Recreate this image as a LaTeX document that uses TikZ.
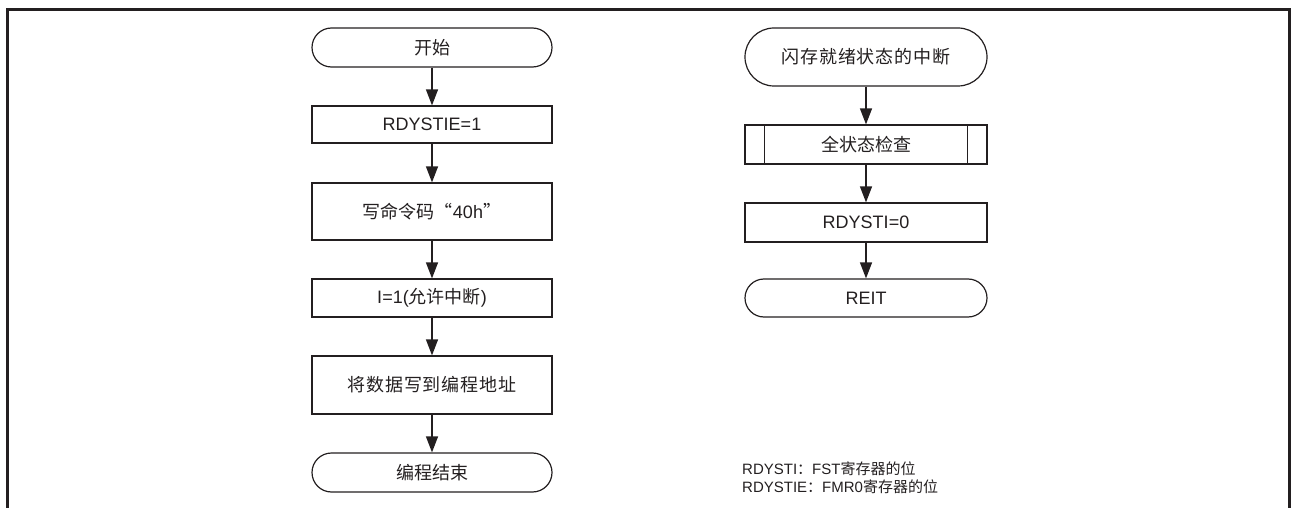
\documentclass[tikz,border=0pt]{standalone}
\usepackage{fontspec}
\setmainfont{Liberation Sans}
\newfontfamily\cjk{Noto Sans CJK SC}
\newfontfamily\cjkwide{Noto Sans CJK SC}[LetterSpace=5]
\usetikzlibrary{arrows.meta}
\definecolor{ink}{HTML}{231F20}

\begin{document}
\begin{tikzpicture}[
  x=1pt, y=-1pt,
  >={Triangle[length=16pt,width=12pt]},
  every node/.style={font=\fontsize{18}{21}\selectfont, text=ink},
  terminal/.style={draw=ink, line width=1.2pt, minimum width=240pt, minimum height=39pt, inner sep=0pt, rounded corners=19.5pt},
  procbox/.style={draw=ink, line width=1.2pt, minimum width=240pt, inner sep=0pt},
  flow/.style={->, draw=ink, line width=1.3pt},
]
\useasboundingbox (0,0) rectangle (1291,508);

% frame
\draw[line width=3pt, ink] (7.5,508) -- (7.5,9.5) -- (1289.5,9.5) -- (1289.5,508);

% programming flow
\node[terminal] (start) at (432,47.5) {\cjk 开始};
\node[procbox, minimum height=37pt] (b1) at (432,124.5) {RDYSTIE=1};
\node[procbox, minimum height=57pt] (b2) at (432,211.5) {{\cjk 写命令码“}40h{\cjk ”}};
\node[procbox, minimum height=38pt] (b3) at (432,298) {I=1({\cjk 允许中断})};
\node[procbox, minimum height=58pt] (b4) at (432,385) {\cjkwide 将数据写到编程地址};
\node[terminal] (stop) at (432,472.5) {\cjk 编程结束};

\draw[flow] (start.south) -- (b1.north);
\draw[flow] (b1.south) -- (b2.north);
\draw[flow] (b2.south) -- (b3.north);
\draw[flow] (b3.south) -- (b4.north);
\draw[flow] (b4.south) -- (stop.north);

% interrupt flow
\node[terminal, minimum width=242pt, minimum height=58pt, rounded corners=29pt] (r0) at (866,57) {\cjkwide 闪存就绪状态的中断};
\node[procbox, minimum width=242pt, minimum height=39pt] (r1) at (866,144.5) {\cjk 全状态检查};
\draw[ink, line width=1.2pt] ([xshift=20pt]r1.north west) -- ([xshift=20pt]r1.south west);
\draw[ink, line width=1.2pt] ([xshift=-20pt]r1.north east) -- ([xshift=-20pt]r1.south east);
\node[procbox, minimum width=242pt, minimum height=39pt] (r2) at (866,222.5) {RDYSTI=0};
\node[terminal, minimum width=242pt, minimum height=38pt, rounded corners=19pt] (r3) at (866,298) {REIT};

\draw[flow] (r0.south) -- (r1.north);
\draw[flow] (r1.south) -- (r2.north);
\draw[flow] (r2.south) -- (r3.north);

% notes
\node[anchor=west, align=left, inner sep=0pt, font=\fontsize{15}{18}\selectfont] (notes) at (742,478)
  {RDYSTI{\cjk ：}FST{\cjk 寄存器的位}\\RDYSTIE{\cjk ：}FMR0{\cjk 寄存器的位}};

\end{tikzpicture}
\end{document}
